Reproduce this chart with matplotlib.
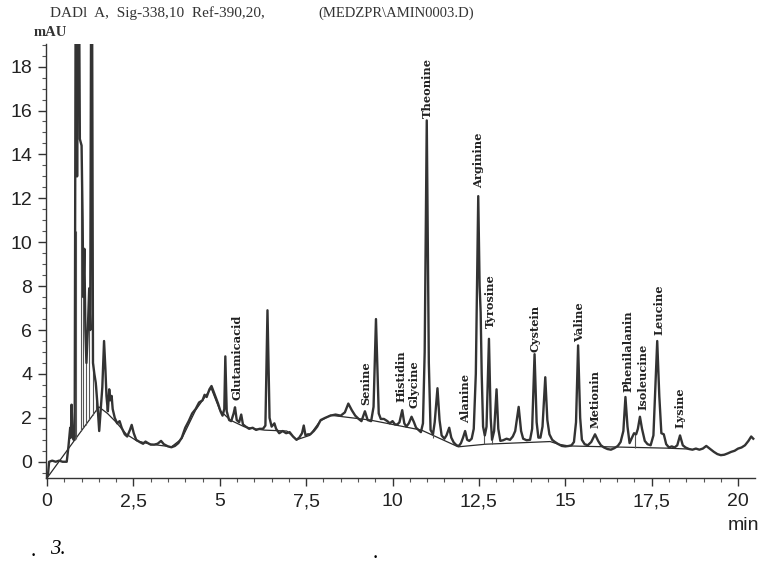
import matplotlib
matplotlib.use("Agg")
import matplotlib.pyplot as plt
from matplotlib.ticker import MultipleLocator

# хроматограмма: время (мин) и сигнал (mAU)
trace_t = [0.00, 0.03, 0.06, 0.15, 0.25, 0.35, 0.45, 0.57, 0.62, 0.65, 0.67, 0.69, 0.71, 0.74, 0.77,
           0.80, 0.84, 0.87, 0.90, 0.95, 1.00, 1.03, 1.05, 1.08, 1.11, 1.14, 1.18, 1.22, 1.25, 1.29,
           1.33, 1.37, 1.41, 1.46, 1.51, 1.55, 1.60, 1.65, 1.69, 1.72, 1.76, 1.80, 1.83, 1.87, 1.90,
           1.96, 2.03, 2.10, 2.16, 2.25, 2.32, 2.40, 2.45, 2.51, 2.58, 2.68, 2.78, 2.85, 2.92, 3.00,
           3.10, 3.20, 3.30, 3.38, 3.50, 3.60, 3.70, 3.80, 3.90, 4.00, 4.10, 4.20, 4.30, 4.40, 4.50,
           4.56, 4.62, 4.70, 4.76, 4.82, 4.88, 4.95, 5.02, 5.08, 5.13, 5.16, 5.20, 5.27, 5.33, 5.40,
           5.44, 5.49, 5.56, 5.62, 5.67, 5.75, 5.85, 5.95, 6.05, 6.15, 6.25, 6.32, 6.38, 6.44, 6.50,
           6.58, 6.63, 6.72, 6.82, 6.92, 7.02, 7.12, 7.22, 7.30, 7.38, 7.43, 7.48, 7.55, 7.62, 7.72,
           7.82, 7.92, 8.05, 8.20, 8.35, 8.50, 8.62, 8.72, 8.82, 8.92, 9.02, 9.10, 9.20, 9.28, 9.38,
           9.45, 9.52, 9.60, 9.66, 9.75, 9.85, 9.92, 10.00, 10.07, 10.14, 10.20, 10.28, 10.34, 10.40,
           10.47, 10.55, 10.62, 10.68, 10.75, 10.82, 10.88, 10.93, 10.99, 11.05, 11.10, 11.17, 11.22,
           11.30, 11.36, 11.42, 11.50, 11.56, 11.64, 11.70, 11.77, 11.85, 11.92, 11.98, 12.04, 12.10,
           12.16, 12.22, 12.29, 12.35, 12.41, 12.48, 12.52, 12.55, 12.58, 12.62, 12.67, 12.72, 12.79,
           12.84, 12.88, 12.94, 13.01, 13.06, 13.12, 13.20, 13.30, 13.40, 13.48, 13.55, 13.65, 13.72,
           13.78, 13.88, 13.98, 14.04, 14.11, 14.17, 14.22, 14.28, 14.34, 14.42, 14.48, 14.54, 14.62,
           14.70, 14.80, 14.90, 15.00, 15.10, 15.18, 15.25, 15.31, 15.37, 15.43, 15.48, 15.56, 15.65,
           15.75, 15.86, 15.95, 16.03, 16.12, 16.22, 16.32, 16.42, 16.52, 16.60, 16.68, 16.74, 16.80,
           16.86, 16.93, 16.99, 17.05, 17.10, 17.16, 17.22, 17.30, 17.38, 17.47, 17.55, 17.61, 17.66,
           17.72, 17.78, 17.85, 17.92, 18.00, 18.08, 18.16, 18.24, 18.32, 18.40, 18.48, 18.58, 18.68,
           18.78, 18.88, 18.98, 19.08, 19.18, 19.30, 19.40, 19.50, 19.60, 19.70, 19.80, 19.90, 20.00,
           20.10, 20.20, 20.30, 20.38, 20.44]
trace_v = [-0.70, -0.55, 0.00, 0.05, 0.00, 0.05, 0.00, 0.00, 0.70, 1.20, 1.55, 1.10, 2.60, 1.30, 1.00,
           1.20, 30.0, 13.0, 30.0, 14.70, 14.40, 11.00, 7.50, 9.70, 6.00, 4.50, 6.00, 7.90, 6.00, 30.0,
           4.50, 4.00, 3.60, 2.60, 1.40, 2.30, 3.40, 5.50, 4.20, 3.00, 2.30, 3.30, 2.80, 3.00, 2.40,
           2.00, 1.75, 1.85, 1.55, 1.25, 1.15, 1.45, 1.68, 1.30, 1.00, 0.90, 0.82, 0.92, 0.85, 0.78,
           0.78, 0.82, 0.95, 0.80, 0.70, 0.66, 0.72, 0.85, 1.10, 1.55, 1.85, 2.20, 2.40, 2.70, 2.80,
           3.05, 2.95, 3.30, 3.45, 3.20, 2.95, 2.65, 2.30, 2.10, 2.40, 4.80, 2.30, 1.90, 1.85, 2.20,
           2.48, 1.90, 1.80, 2.15, 1.70, 1.60, 1.50, 1.55, 1.45, 1.50, 1.50, 1.65, 6.90, 2.00, 1.60,
           1.75, 1.50, 1.30, 1.40, 1.30, 1.35, 1.15, 1.00, 1.10, 1.30, 1.65, 1.20, 1.25, 1.25, 1.40,
           1.60, 1.90, 2.00, 2.10, 2.15, 2.10, 2.25, 2.65, 2.35, 2.10, 1.95, 1.85, 2.30, 1.90, 1.85,
           2.50, 6.50, 2.20, 1.95, 1.95, 1.85, 1.75, 1.85, 1.70, 1.70, 1.80, 2.35, 1.75, 1.60,
           1.75, 2.05, 1.80, 1.55, 1.45, 1.35, 1.75, 5.00, 15.55, 4.50, 1.45, 1.25, 1.80,
           3.35, 1.90, 1.20, 1.05, 1.20, 1.55, 1.10, 0.88, 0.75, 0.72, 0.85, 1.10, 1.40,
           1.00, 0.95, 1.05, 1.50, 4.00, 12.10, 8.00, 6.80, 4.00, 1.60, 1.20, 1.60, 5.60,
           2.00, 1.00, 1.40, 3.30, 1.50, 0.95, 0.98, 1.05, 1.00, 1.15, 1.40, 2.50, 1.40,
           1.05, 0.98, 1.00, 1.50, 4.90, 1.80, 1.10, 1.10, 1.60, 3.85, 1.90, 1.25, 1.00,
           0.90, 0.80, 0.72, 0.70, 0.72, 0.75, 0.90, 1.80, 5.30, 2.00, 1.00, 0.80, 0.75,
           0.90, 1.25, 0.95, 0.75, 0.65, 0.58, 0.55, 0.62, 0.72, 0.90, 1.40, 2.95, 1.60,
           0.85, 1.10, 1.30, 1.25, 1.50, 2.05, 1.50, 0.95, 0.80, 0.75, 1.20, 3.50, 5.50,
           3.00, 1.30, 1.25, 0.80, 0.65, 0.70, 0.65, 0.75, 1.20, 0.75, 0.65, 0.58, 0.55,
           0.60, 0.55, 0.60, 0.72, 0.60, 0.45, 0.35, 0.30, 0.32, 0.38, 0.45, 0.50, 0.60,
           0.65, 0.75, 0.95, 1.15, 1.05]

# базовая линия интегрирования
base_t = [0.00, 1.50, 1.75, 2.00, 2.30, 2.60, 3.00, 3.60, 3.90, 4.30, 4.75, 5.00, 5.30, 5.70, 6.00,
          6.30, 6.94, 7.22, 7.60, 7.90, 8.20, 9.35, 10.84, 11.90, 12.70, 14.56, 14.80, 15.10, 17.94, 18.55]
base_v = [-0.74, 2.50, 2.20, 1.80, 1.25, 0.95, 0.80, 0.68, 1.05, 2.35, 3.35, 2.35, 1.90, 1.60, 1.50,
          1.44, 1.40, 1.00, 1.20, 1.85, 2.12, 1.90, 1.44, 0.68, 0.80, 0.92, 0.80, 0.72, 0.62, 0.58]

# вертикальные линии разделения пиков
drop_t = [0.80, 0.83, 0.98, 1.05, 1.12, 1.22, 1.33, 1.42, 11.17, 12.65, 12.88, 17.02]
drop_top = [1.20, 10.5, 14.5, 7.50, 5.80, 7.90, 4.50, 3.50, 1.25, 1.40, 1.00, 1.25]
drop_bot = [0.99, 1.05, 1.38, 1.53, 1.68, 1.90, 2.13, 2.33, 1.10, 0.80, 0.82, 0.64]

# подписи пиков
peak_names = ["Glutamicacid", "Senine", "Histidin", "Glycine", "Theonine", "Alanine", "Arginine",
              "Tyrosine", "Cystein", "Valine", "Metionin", "Phenilalanin", "Isoleucine", "Leucine", "Lysine"]
label_t = [5.49, 9.22, 10.25, 10.62, 11.00, 12.10, 12.49, 12.82, 14.13, 15.41, 15.86, 16.80, 17.24, 17.70, 18.32]
label_v = [2.80, 2.58, 2.70, 2.45, 15.65, 1.75, 12.45, 6.08, 5.00, 5.46, 1.53, 3.18, 2.35, 5.77, 1.54]

xticks = [0, 2.5, 5, 7.5, 10, 12.5, 15, 17.5, 20]
xtick_labels = ["0", "2,5", "5", "7,5", "10", "12,5", "15", "17,5", "20"]
yticks = [0, 2, 4, 6, 8, 10, 12, 14, 16, 18]

W, H = 763, 573
fig = plt.figure(figsize=(W / 100, H / 100), dpi=100)
ax = fig.add_axes([46 / W, 1 - 478 / H, (755 - 46) / W, (478 - 44) / H])

ax.plot(base_t, base_v, color="#2a2a2a", lw=0.9, zorder=2)
ax.vlines(drop_t, drop_bot, drop_top, color="#555555", lw=0.8, zorder=2)
ax.plot(trace_t, trace_v, color="#333333", lw=1.7, zorder=3)

lab_font = dict(family="DejaVu Serif", fontsize=8.2, fontweight="bold", color="#222222")
for name, t, v in zip(peak_names, label_t, label_v):
    ax.text(t, v, name, rotation=90, ha="center", va="bottom", **lab_font)

ax.set_xlim(-0.03, 20.49)
ax.set_ylim(-0.74, 19.03)
ax.set_xticks(xticks)
ax.set_xticklabels(xtick_labels)
ax.set_yticks(yticks)
ax.xaxis.set_minor_locator(MultipleLocator(0.5))
ax.yaxis.set_minor_locator(MultipleLocator(0.5))

for s in ["top", "right"]:
    ax.spines[s].set_visible(False)
for s in ["left", "bottom"]:
    ax.spines[s].set_color("#333333")
    ax.spines[s].set_linewidth(1.0)

tick_fam = ["Liberation Sans Narrow", "Liberation Sans"]
ax.tick_params(which="major", direction="out", length=6, width=1, color="#333333",
               labelsize=14, labelcolor="#222222")
ax.tick_params(which="minor", direction="out", length=3, width=0.8, color="#555555")
ax.tick_params(axis="x", pad=5)
ax.tick_params(axis="y", pad=4)
for lb in ax.get_xticklabels() + ax.get_yticklabels():
    lb.set_family(tick_fam)

fig.text(50 / W, 1 - 13 / H, "DADl  A,  Sig-338,10  Ref-390,20,", family="Liberation Serif",
         fontsize=11, color="#333333", va="center", ha="left")
fig.text(318 / W, 1 - 13 / H, "(MEDZPR\\AMIN0003.D)", family="Liberation Serif",
         fontsize=10.5, color="#333333", va="center", ha="left")
fig.text(50 / W, 1 - 33 / H, "mAU", family="Liberation Serif", fontsize=10.5,
         fontweight="bold", color="#333333", va="center", ha="center")
fig.text(759 / W, 1 - 525 / H, "min", family=tick_fam, fontsize=14, color="#222222",
         va="center", ha="right")
fig.text(33 / W, 1 - 552 / H, ".", family="Liberation Serif", fontsize=15, va="center", ha="center")
fig.text(58 / W, 1 - 550 / H, "3.", family="Liberation Serif", fontsize=15, style="italic",
         va="center", ha="center")
fig.text(375 / W, 1 - 554 / H, ".", family="Liberation Serif", fontsize=15, va="center", ha="center")

fig.savefig("out.png", dpi=100)
